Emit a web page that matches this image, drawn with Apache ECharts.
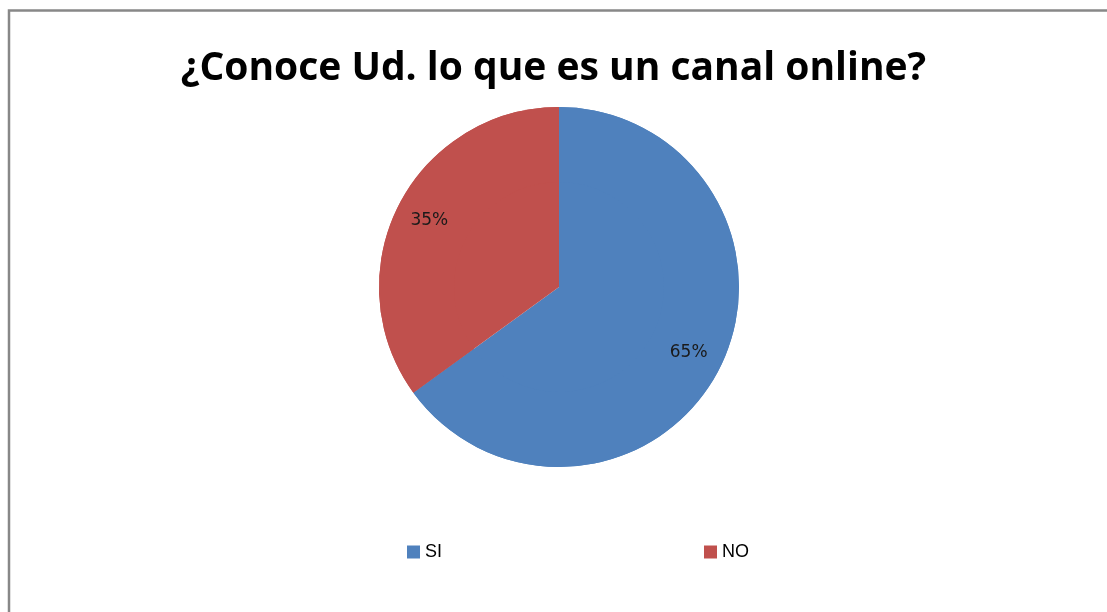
<!DOCTYPE html>
<html><head><meta charset="utf-8">
<script src="https://cdn.jsdelivr.net/npm/echarts@6/dist/echarts.min.js"></script>
<style>html,body{margin:0;padding:0;background:#fff;}#c{width:1107px;height:612px;}</style>
</head><body><div id="c"></div>
<script>
const titleText = '¿Conoce Ud. lo que es un canal online?';
const categories = ['SI', 'NO'];
const values = [65, 35];
const colors = ['#4F81BD', '#C0504D'];

const data = categories.map((c, i) => ({ name: c, value: values[i], itemStyle: { color: colors[i] } }));
const chart = echarts.init(document.getElementById('c'));
chart.setOption({
  animation: false,
  backgroundColor: '#fff',
  title: {
    text: titleText, left: 'center', top: 44,
    textStyle: { fontFamily: 'Open Sans', fontWeight: 'bold', fontSize: 39, color: '#000' }
  },
  legend: {
    data: categories, left: 402, top: 538, itemWidth: 13, itemHeight: 13, itemGap: 262,
    icon: 'rect',
    textStyle: { fontFamily: 'Liberation Sans', fontSize: 18, color: '#000' }
  },
  graphic: [{
    type: 'rect', shape: { x: 9, y: 10.5, width: 1200, height: 700 },
    style: { fill: 'none', stroke: '#888', lineWidth: 2.5 }, silent: true
  }],
  series: [{
    type: 'pie', center: [559, 287], radius: [0, 180], startAngle: 90, clockwise: true,
    data: data, label: { show: false }, labelLine: { show: false },
    emphasis: { disabled: true }
  }, {
    type: 'pie', center: [559, 287], radius: [105, 180], startAngle: 90, clockwise: true,
    data: data, silent: true,
    label: { show: true, position: 'inside', formatter: '{d}%', fontFamily: 'DejaVu Sans', fontSize: 17, color: '#1a1a1a' },
    labelLine: { show: false }, emphasis: { disabled: true }
  }]
});
</script></body></html>
